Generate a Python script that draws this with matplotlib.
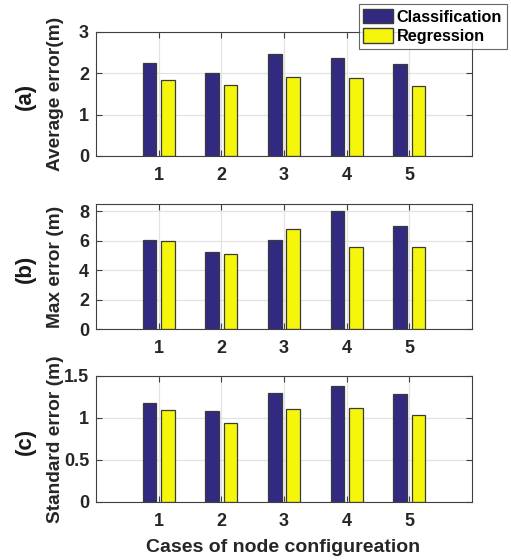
import numpy as np
import matplotlib.pyplot as plt
from matplotlib.patches import Patch

cases = [1, 2, 3, 4, 5]
avg_class = [2.26, 2.00, 2.46, 2.36, 2.23]
avg_reg = [1.85, 1.72, 1.91, 1.89, 1.70]
max_class = [6.08, 5.24, 6.08, 8.00, 6.99]
max_reg = [6.01, 5.10, 6.83, 5.56, 5.60]
std_class = [1.175, 1.08, 1.30, 1.38, 1.29]
std_reg = [1.10, 0.94, 1.11, 1.12, 1.04]

CLASS_COLOR = "#322a80"
REG_COLOR = "#f6f60c"
EDGE = "#3a3a3a"

plt.rcParams["font.family"] = ["Liberation Sans", "DejaVu Sans"]
plt.rcParams["font.weight"] = "bold"

W, H = 511, 560
fig = plt.figure(figsize=(W / 100, H / 100), dpi=100)


def px_axes(left, top, right, bottom):
    return fig.add_axes([left / W, 1 - bottom / H, (right - left) / W, (bottom - top) / H])


panels = [
    # (top, bottom, class, reg, ylim, yticks, yticklabels, ylabel, tag)
    (32, 156, avg_class, avg_reg, 3, [0, 1, 2, 3], ["0", "1", "2", "3"], "Average error(m)", "(a)"),
    (204, 329, max_class, max_reg, 8.5, [0, 2, 4, 6, 8], ["0", "2", "4", "6", "8"], "Max error (m)", "(b)"),
    (376, 502, std_class, std_reg, 1.5, [0, 0.5, 1, 1.5], ["0", "0.5", "1", "1.5"], "Standard error (m)", "(c)"),
]

x = np.array(cases)
bw = 0.22
for top, bottom, cls, reg, ymax, yt, ytl, ylab, tag in panels:
    ax = px_axes(96, top, 472, bottom)
    ax.set_axisbelow(True)
    ax.grid(True, color="#e3e3e3", linewidth=0.9)
    ax.bar(x - 0.145, cls, bw, color=CLASS_COLOR, edgecolor=EDGE, linewidth=0.9)
    ax.bar(x + 0.145, reg, bw, color=REG_COLOR, edgecolor=EDGE, linewidth=0.9)
    ax.set_xlim(0, 6)
    ax.set_ylim(0, ymax)
    ax.set_xticks(cases)
    ax.set_yticks(yt)
    ax.set_yticklabels(ytl)
    ax.tick_params(direction="in", length=4, width=0.8, color="#404040",
                   top=True, right=True, labelsize=13, colors="#262626")
    ax.tick_params(axis="x", pad=8, colors="#404040", labelcolor="#262626")
    ax.tick_params(axis="y", pad=5, colors="#404040", labelcolor="#262626")
    for s in ax.spines.values():
        s.set_color("#404040")
        s.set_linewidth(0.8)
    yc = 1 - (top + bottom) / 2 / H
    fig.text(56 / W, yc, ylab, rotation=90, ha="center", va="center",
             fontsize=13.8, fontweight="bold", color="#262626")
    fig.text(25 / W, yc - 0.005, tag, rotation=90, ha="center", va="center",
             fontsize=16, fontweight="bold", color="#1a1a1a")

fig.text(283 / W, 1 - 547 / H, "Cases of node configureation", ha="center", va="center",
         fontsize=14, fontweight="bold", color="#262626")

handles = [
    Patch(facecolor=CLASS_COLOR, edgecolor=EDGE, label="Classification"),
    Patch(facecolor=REG_COLOR, edgecolor=EDGE, label="Regression"),
]
leg = fig.legend(handles=handles, loc="upper right", bbox_to_anchor=(507 / W, 1 - 4 / H),
                 fontsize=11.7, frameon=True, fancybox=False, handlelength=1.8,
                 handleheight=1.0, handletextpad=0.25, borderpad=0.3, labelspacing=0.2,
                 borderaxespad=0)
leg.get_frame().set_edgecolor("#404040")
leg.get_frame().set_linewidth(0.8)
for t in leg.get_texts():
    t.set_fontweight("bold")

fig.savefig("out.png", dpi=100)
